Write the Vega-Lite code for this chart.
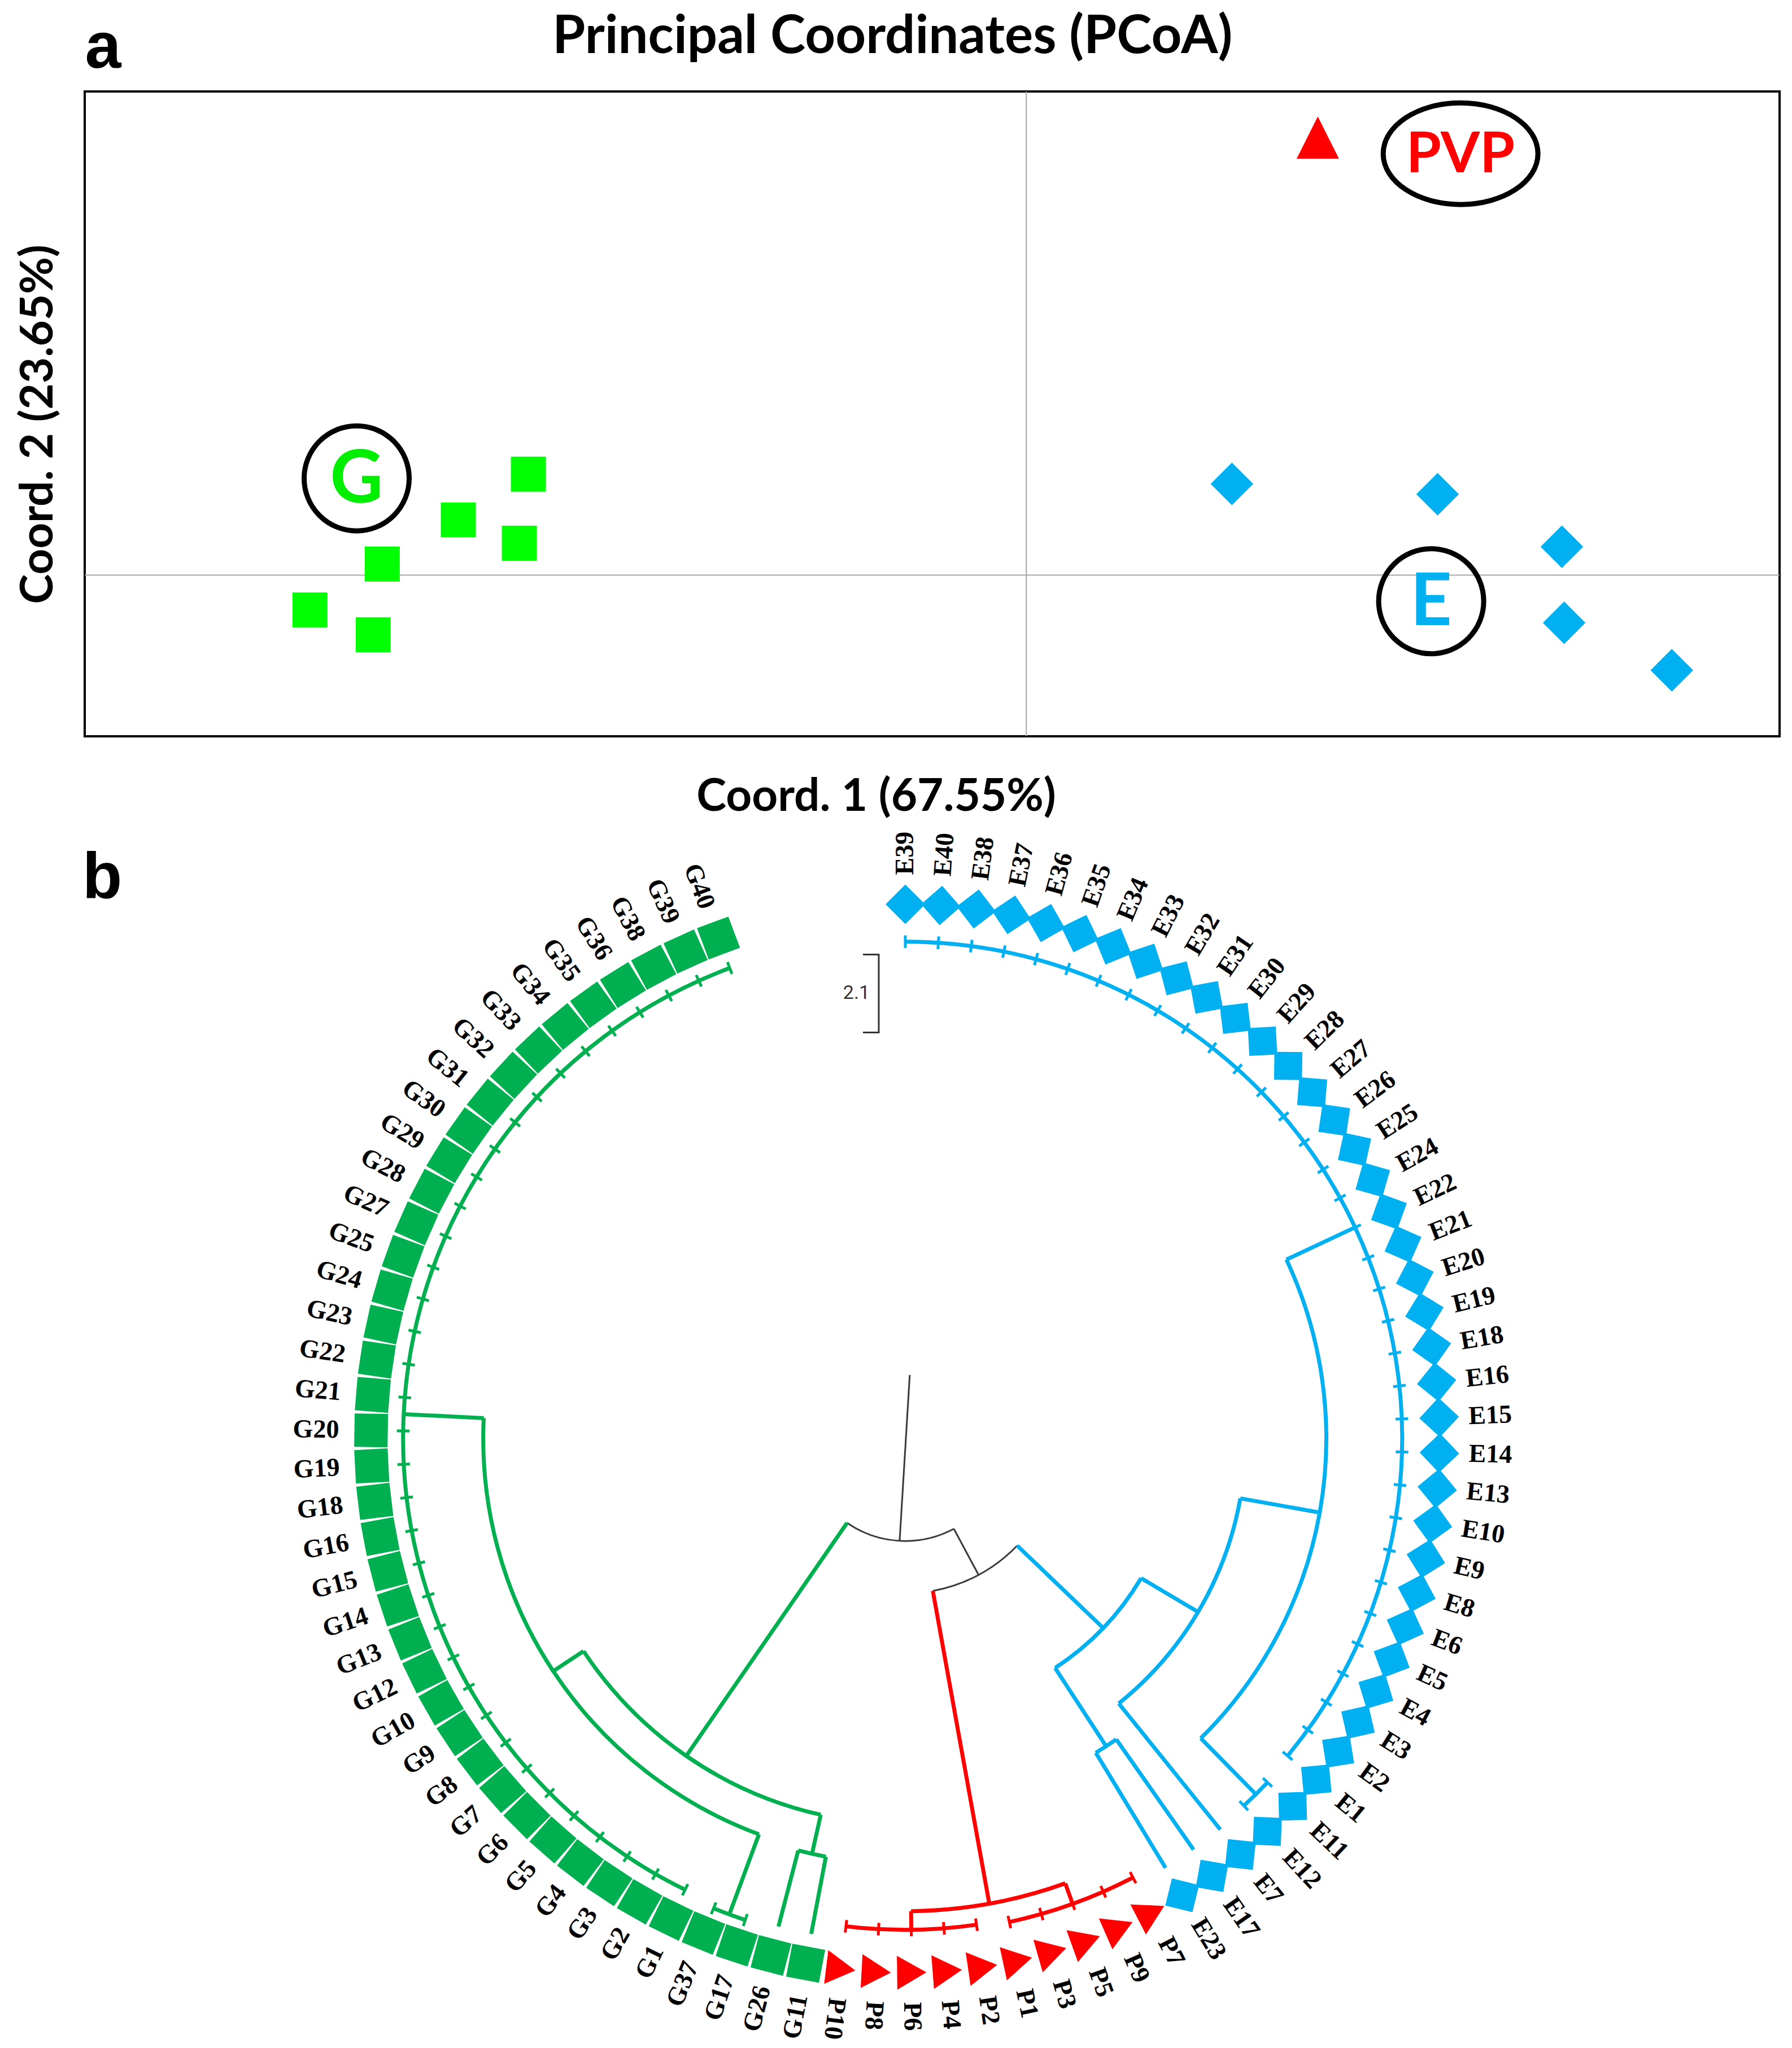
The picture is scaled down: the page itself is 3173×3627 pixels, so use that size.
{
 "$schema": "https://vega.github.io/schema/vega-lite/v6.json",
 "background": "white",
 "padding": {"left": 26, "top": 17, "right": 0, "bottom": 0},
 "autosize": {"type": "pad"},
 "spacing": 11,
 "config": {"view": {"stroke": null}, "font": "Lato"},
 "datasets": {
  "pcoa": [
   {"grp": "G", "x": -0.661, "y": 0.313},
   {"grp": "G", "x": -0.754, "y": 0.171},
   {"grp": "G", "x": -0.673, "y": 0.099},
   {"grp": "G", "x": -0.855, "y": 0.034},
   {"grp": "G", "x": -0.951, "y": -0.108},
   {"grp": "G", "x": -0.867, "y": -0.185},
   {"grp": "E", "x": 0.273, "y": 0.283},
   {"grp": "E", "x": 0.546, "y": 0.251},
   {"grp": "E", "x": 0.711, "y": 0.088},
   {"grp": "E", "x": 0.714, "y": -0.148},
   {"grp": "E", "x": 0.857, "y": -0.295},
   {"grp": "P", "x": 0.387, "y": 1.357}
  ],
  "ann": [
   {"lab": "G", "x": -0.889, "y": 0.300},
   {"lab": "PVP", "x": 0.5765, "y": 1.307},
   {"lab": "E", "x": 0.5375, "y": -0.081}
  ],
  "leaves": [
   {"n": "E39", "g": "E", "a": 0, "t": 0.93},
   {"n": "E40", "g": "E", "a": 3.815, "t": 0.93},
   {"n": "E38", "g": "E", "a": 7.63, "t": 0.93},
   {"n": "E37", "g": "E", "a": 11.445, "t": 0.93},
   {"n": "E36", "g": "E", "a": 15.26, "t": 0.93},
   {"n": "E35", "g": "E", "a": 19.075, "t": 0.93},
   {"n": "E34", "g": "E", "a": 22.89, "t": 0.93},
   {"n": "E33", "g": "E", "a": 26.705, "t": 0.93},
   {"n": "E32", "g": "E", "a": 30.52, "t": 0.93},
   {"n": "E31", "g": "E", "a": 34.335, "t": 0.93},
   {"n": "E30", "g": "E", "a": 38.15, "t": 0.93},
   {"n": "E29", "g": "E", "a": 41.965, "t": 0.93},
   {"n": "E28", "g": "E", "a": 45.78, "t": 0.93},
   {"n": "E27", "g": "E", "a": 49.595, "t": 0.93},
   {"n": "E26", "g": "E", "a": 53.41, "t": 0.93},
   {"n": "E25", "g": "E", "a": 57.225, "t": 0.93},
   {"n": "E24", "g": "E", "a": 61.04, "t": 0.93},
   {"n": "E22", "g": "E", "a": 64.855, "t": 0.93},
   {"n": "E21", "g": "E", "a": 68.67, "t": 0.93},
   {"n": "E20", "g": "E", "a": 72.485, "t": 0.93},
   {"n": "E19", "g": "E", "a": 76.3, "t": 0.93},
   {"n": "E18", "g": "E", "a": 80.115, "t": 0.93},
   {"n": "E16", "g": "E", "a": 83.93, "t": 0.93},
   {"n": "E15", "g": "E", "a": 87.745, "t": 0.93},
   {"n": "E14", "g": "E", "a": 91.56, "t": 0.93},
   {"n": "E13", "g": "E", "a": 95.375, "t": 0.93},
   {"n": "E10", "g": "E", "a": 99.19, "t": 0.93},
   {"n": "E9", "g": "E", "a": 103.005, "t": 0.93},
   {"n": "E8", "g": "E", "a": 106.82, "t": 0.93},
   {"n": "E6", "g": "E", "a": 110.635, "t": 0.93},
   {"n": "E5", "g": "E", "a": 114.45, "t": 0.93},
   {"n": "E4", "g": "E", "a": 118.265, "t": 0.93},
   {"n": "E3", "g": "E", "a": 122.08, "t": 0.93},
   {"n": "E2", "g": "E", "a": 125.895, "t": 0.93},
   {"n": "E1", "g": "E", "a": 129.71, "t": 0.93},
   {"n": "E11", "g": "E", "a": 133.525, "t": 0.935},
   {"n": "E12", "g": "E", "a": 137.34, "t": 0.935},
   {"n": "E7", "g": "E", "a": 141.155, "t": 0},
   {"n": "E17", "g": "E", "a": 144.97, "t": 0},
   {"n": "E23", "g": "E", "a": 148.785, "t": 0},
   {"n": "P7", "g": "P", "a": 152.6, "t": 0.926},
   {"n": "P9", "g": "P", "a": 156.415, "t": 0.926},
   {"n": "P5", "g": "P", "a": 160.23, "t": 0.926},
   {"n": "P3", "g": "P", "a": 164.045, "t": 0.926},
   {"n": "P1", "g": "P", "a": 167.86, "t": 0.926},
   {"n": "P2", "g": "P", "a": 171.675, "t": 0.92},
   {"n": "P4", "g": "P", "a": 175.49, "t": 0.92},
   {"n": "P6", "g": "P", "a": 179.305, "t": 0.92},
   {"n": "P8", "g": "P", "a": 183.12, "t": 0.92},
   {"n": "P10", "g": "P", "a": 186.935, "t": 0.92},
   {"n": "G11", "g": "G", "a": 190.75, "t": 0},
   {"n": "G26", "g": "G", "a": 194.565, "t": 0},
   {"n": "G17", "g": "G", "a": 198.38, "t": 0.95},
   {"n": "G37", "g": "G", "a": 202.195, "t": 0.95},
   {"n": "G1", "g": "G", "a": 206.01, "t": 0.94},
   {"n": "G2", "g": "G", "a": 209.825, "t": 0.94},
   {"n": "G3", "g": "G", "a": 213.64, "t": 0.94},
   {"n": "G4", "g": "G", "a": 217.455, "t": 0.94},
   {"n": "G5", "g": "G", "a": 221.27, "t": 0.94},
   {"n": "G6", "g": "G", "a": 225.085, "t": 0.94},
   {"n": "G7", "g": "G", "a": 228.9, "t": 0.94},
   {"n": "G8", "g": "G", "a": 232.715, "t": 0.94},
   {"n": "G9", "g": "G", "a": 236.53, "t": 0.94},
   {"n": "G10", "g": "G", "a": 240.345, "t": 0.94},
   {"n": "G12", "g": "G", "a": 244.16, "t": 0.94},
   {"n": "G13", "g": "G", "a": 247.975, "t": 0.94},
   {"n": "G14", "g": "G", "a": 251.79, "t": 0.94},
   {"n": "G15", "g": "G", "a": 255.605, "t": 0.94},
   {"n": "G16", "g": "G", "a": 259.42, "t": 0.94},
   {"n": "G18", "g": "G", "a": 263.235, "t": 0.94},
   {"n": "G19", "g": "G", "a": 267.05, "t": 0.94},
   {"n": "G20", "g": "G", "a": 270.865, "t": 0.94},
   {"n": "G21", "g": "G", "a": 274.68, "t": 0.94},
   {"n": "G22", "g": "G", "a": 278.495, "t": 0.94},
   {"n": "G23", "g": "G", "a": 282.31, "t": 0.94},
   {"n": "G24", "g": "G", "a": 286.125, "t": 0.94},
   {"n": "G25", "g": "G", "a": 289.94, "t": 0.94},
   {"n": "G27", "g": "G", "a": 293.755, "t": 0.94},
   {"n": "G28", "g": "G", "a": 297.57, "t": 0.94},
   {"n": "G29", "g": "G", "a": 301.385, "t": 0.94},
   {"n": "G30", "g": "G", "a": 305.2, "t": 0.94},
   {"n": "G31", "g": "G", "a": 309.015, "t": 0.94},
   {"n": "G32", "g": "G", "a": 312.83, "t": 0.94},
   {"n": "G33", "g": "G", "a": 316.645, "t": 0.94},
   {"n": "G34", "g": "G", "a": 320.46, "t": 0.94},
   {"n": "G35", "g": "G", "a": 324.275, "t": 0.94},
   {"n": "G36", "g": "G", "a": 328.09, "t": 0.94},
   {"n": "G38", "g": "G", "a": 331.905, "t": 0.94},
   {"n": "G39", "g": "G", "a": 335.72, "t": 0.94},
   {"n": "G40", "g": "G", "a": 339.535, "t": 0.94}
  ],
  "segs": [
   {"g": "K", "a1": 4, "r1": 0.119, "a2": 183.18, "r2": 0.192},
   {"g": "K", "a1": 151.77, "r1": 0.192, "a2": 151.77, "r2": 0.29},
   {"g": "P", "a1": 169.77, "r1": 0.29, "a2": 169.77, "r2": 0.885},
   {"g": "P", "a1": 179.305, "r1": 0.885, "a2": 179.305, "r2": 0.92},
   {"g": "P", "a1": 160.23, "r1": 0.885, "a2": 160.23, "r2": 0.926},
   {"g": "E", "a1": 133.77, "r1": 0.29, "a2": 133.77, "r2": 0.513},
   {"g": "E", "a1": 146.88, "r1": 0.513, "a2": 146.88, "r2": 0.688},
   {"g": "E", "a1": 144.97, "r1": 0.688, "a2": 144.97, "r2": 0.94},
   {"g": "E", "a1": 148.785, "r1": 0.688, "a2": 148.785, "r2": 0.94},
   {"g": "E", "a1": 120.65, "r1": 0.513, "a2": 120.65, "r2": 0.637},
   {"g": "E", "a1": 141.155, "r1": 0.637, "a2": 141.155, "r2": 0.94},
   {"g": "E", "a1": 100.14, "r1": 0.637, "a2": 100.14, "r2": 0.788},
   {"g": "E", "a1": 64.855, "r1": 0.788, "a2": 64.855, "r2": 0.93},
   {"g": "E", "a1": 135.43, "r1": 0.788, "a2": 135.43, "r2": 0.935},
   {"g": "G", "a1": 214.6, "r1": 0.192, "a2": 214.6, "r2": 0.722},
   {"g": "G", "a1": 236.53, "r1": 0.722, "a2": 236.53, "r2": 0.79},
   {"g": "G", "a1": 272.77, "r1": 0.79, "a2": 272.77, "r2": 0.94},
   {"g": "G", "a1": 200.29, "r1": 0.79, "a2": 200.29, "r2": 0.95},
   {"g": "G", "a1": 192.66, "r1": 0.722, "a2": 192.66, "r2": 0.797},
   {"g": "G", "a1": 194.565, "r1": 0.797, "a2": 194.565, "r2": 0.944},
   {"g": "G", "a1": 190.75, "r1": 0.797, "a2": 190.75, "r2": 0.944}
  ],
  "arcs": [
   {"g": "K", "a1": 151.77, "a2": 214.6, "r": 0.192},
   {"g": "K", "a1": 133.77, "a2": 169.77, "r": 0.29},
   {"g": "P", "a1": 160.23, "a2": 179.305, "r": 0.885},
   {"g": "P", "a1": 171.675, "a2": 186.935, "r": 0.92},
   {"g": "P", "a1": 152.6, "a2": 167.86, "r": 0.926},
   {"g": "E", "a1": 120.65, "a2": 146.88, "r": 0.513},
   {"g": "E", "a1": 144.97, "a2": 148.785, "r": 0.688},
   {"g": "E", "a1": 100.14, "a2": 141.155, "r": 0.637},
   {"g": "E", "a1": 64.855, "a2": 135.43, "r": 0.788},
   {"g": "E", "a1": 0, "a2": 129.71, "r": 0.93},
   {"g": "E", "a1": 133.525, "a2": 137.34, "r": 0.935},
   {"g": "G", "a1": 192.66, "a2": 236.53, "r": 0.722},
   {"g": "G", "a1": 200.29, "a2": 272.77, "r": 0.79},
   {"g": "G", "a1": 206.01, "a2": 339.535, "r": 0.94},
   {"g": "G", "a1": 198.38, "a2": 202.195, "r": 0.95},
   {"g": "G", "a1": 190.75, "a2": 194.565, "r": 0.797}
  ],
  "bar": [
   {"o": 1, "x": -0.0793, "y": 0.906},
   {"o": 2, "x": -0.0497, "y": 0.906},
   {"o": 3, "x": -0.0497, "y": 0.760},
   {"o": 4, "x": -0.0793, "y": 0.760}
  ]
 },
 "vconcat": [
  {
   "width": 3001,
   "height": 1142,
   "view": {"stroke": "#000000", "strokeWidth": 4},
   "layer": [
    {
     "data": {"values": [{}]},
     "mark": {"type": "rule", "color": "#a6a6a6", "strokeWidth": 2},
     "encoding": {"x": {"datum": 0, "type": "quantitative"}}
    },
    {
     "data": {"values": [{}]},
     "mark": {"type": "rule", "color": "#a6a6a6", "strokeWidth": 2},
     "encoding": {"y": {"datum": 0, "type": "quantitative"}}
    },
    {
     "data": {"name": "pcoa"},
     "transform": [{"filter": "datum.grp == 'G'"}],
     "mark": {"type": "point", "shape": "square", "filled": true, "opacity": 1, "color": "#00FF00", "size": 3844},
     "encoding": {
      "x": {"field": "x", "type": "quantitative", "scale": {"domain": [-1.25, 1.0], "nice": false, "zero": false},
            "axis": {"title": "Coord. 1 (67.55%)", "domain": false, "ticks": false, "labels": false, "grid": false, "titleFont": "Lato", "titleFontSize": 80, "titleFontWeight": "bold", "titleColor": "#000000", "titleX": 1401, "titleY": 131, "titleBaseline": "alphabetic"}},
      "y": {"field": "y", "type": "quantitative", "scale": {"domain": [-0.5, 1.5], "nice": false, "zero": false},
            "axis": {"title": "Coord. 2 (23.65%)", "domain": false, "ticks": false, "labels": false, "grid": false, "titleFont": "Lato", "titleFontSize": 80, "titleFontWeight": "bold", "titleColor": "#000000", "titleX": -58, "titleY": 589, "titleAngle": 270, "titleAlign": "center", "titleBaseline": "alphabetic"}}
     }
    },
    {
     "data": {"name": "pcoa"},
     "transform": [{"filter": "datum.grp == 'E'"}],
     "mark": {"type": "point", "shape": "diamond", "filled": true, "opacity": 1, "color": "#00B0F0", "size": 5700},
     "encoding": {"x": {"field": "x", "type": "quantitative"}, "y": {"field": "y", "type": "quantitative"}}
    },
    {
     "data": {"name": "pcoa"},
     "transform": [{"filter": "datum.grp == 'P'"}],
     "mark": {"type": "point", "shape": "M0,-1L1,1L-1,1Z", "filled": true, "opacity": 1, "color": "#FF0000", "size": 5600},
     "encoding": {"x": {"field": "x", "type": "quantitative"}, "y": {"field": "y", "type": "quantitative"}}
    },
    {
     "data": {"name": "ann"},
     "transform": [{"filter": "datum.lab != 'PVP'"}],
     "mark": {"type": "point", "shape": "circle", "filled": false, "opacity": 1, "stroke": "#000000", "strokeWidth": 9, "size": 34596},
     "encoding": {"x": {"field": "x", "type": "quantitative"}, "y": {"field": "y", "type": "quantitative"}}
    },
    {
     "data": {"name": "ann"},
     "transform": [{"filter": "datum.lab == 'PVP'"}],
     "mark": {"type": "point", "shape": "M-1,0A1,0.657,0,1,1,1,0A1,0.657,0,1,1,-1,0Z", "filled": false, "opacity": 1, "stroke": "#000000", "strokeWidth": 9, "size": 75076},
     "encoding": {"x": {"field": "x", "type": "quantitative"}, "y": {"field": "y", "type": "quantitative"}}
    },
    {
     "data": {"name": "ann"},
     "transform": [{"filter": "datum.lab == 'G'"}],
     "mark": {"type": "text", "font": "Lato", "fontWeight": "bold", "fontSize": 130, "color": "#00EE00", "baseline": "middle", "align": "center", "dy": 4},
     "encoding": {"x": {"field": "x", "type": "quantitative"}, "y": {"field": "y", "type": "quantitative"}, "text": {"field": "lab"}}
    },
    {
     "data": {"name": "ann"},
     "transform": [{"filter": "datum.lab == 'E'"}],
     "mark": {"type": "text", "font": "Lato", "fontWeight": "bold", "fontSize": 128, "color": "#00B0F0", "baseline": "middle", "align": "center", "dy": 4},
     "encoding": {"x": {"field": "x", "type": "quantitative"}, "y": {"field": "y", "type": "quantitative"}, "text": {"field": "lab"}}
    },
    {
     "data": {"name": "ann"},
     "transform": [{"filter": "datum.lab == 'PVP'"}],
     "mark": {"type": "text", "font": "Lato", "fontWeight": "bold", "fontSize": 100, "color": "#FF0000", "baseline": "middle", "align": "center", "dy": 3},
     "encoding": {"x": {"field": "x", "type": "quantitative"}, "y": {"field": "y", "type": "quantitative"}, "text": {"field": "lab"}}
    },
    {
     "data": {"values": [{"t": "a", "x": -1.2496, "y": 1.5736}]},
     "mark": {"type": "text", "font": "Liberation Sans", "fontWeight": "bold", "fontSize": 115, "color": "#000000", "baseline": "alphabetic", "align": "left"},
     "encoding": {"x": {"field": "x", "type": "quantitative"}, "y": {"field": "y", "type": "quantitative"}, "text": {"field": "t"}}
    },
    {
     "data": {"values": [{"t": "Principal Coordinates (PCoA)", "x": -0.1777, "y": 1.619}]},
     "mark": {"type": "text", "font": "Lato", "fontWeight": "bold", "fontSize": 94, "color": "#000000", "baseline": "alphabetic", "align": "center"},
     "encoding": {"x": {"field": "x", "type": "quantitative"}, "y": {"field": "y", "type": "quantitative"}, "text": {"field": "t"}}
    }
   ]
  },
  {
   "width": 2906,
   "height": 2167,
   "layer": [
    {
     "data": {"name": "arcs"},
     "transform": [{"filter": "datum.g != 'K'"}],
     "mark": {"type": "arc", "filled": false, "strokeWidth": 7},
     "encoding": {
      "theta": {"field": "a1", "type": "quantitative", "scale": {"domain": [0, 360]}, "stack": null},
      "theta2": {"field": "a2"},
      "radius": {"field": "r", "type": "quantitative", "scale": {"type": "linear", "domain": [0, 1], "range": [0, 946], "zero": true, "nice": false}},
      "radius2": {"field": "r"},
      "color": {"field": "g", "type": "nominal", "scale": {"domain": ["E", "P", "G", "K"], "range": ["#00B0F0", "#FF0000", "#00B050", "#3a3a3a"]}, "legend": null}
     }
    },
    {
     "data": {"name": "arcs"},
     "transform": [{"filter": "datum.g == 'K'"}],
     "mark": {"type": "arc", "filled": false, "strokeWidth": 3},
     "encoding": {
      "theta": {"field": "a1", "type": "quantitative", "stack": null},
      "theta2": {"field": "a2"},
      "radius": {"field": "r", "type": "quantitative"},
      "radius2": {"field": "r"},
      "color": {"field": "g", "type": "nominal", "legend": null}
     }
    },
    {
     "data": {"name": "segs"},
     "transform": [
      {"filter": "datum.g != 'K'"},
      {"calculate": "datum.r1*sin(datum.a1*PI/180)", "as": "x1"},
      {"calculate": "datum.r1*cos(datum.a1*PI/180)", "as": "y1"},
      {"calculate": "datum.r2*sin(datum.a2*PI/180)", "as": "x2"},
      {"calculate": "datum.r2*cos(datum.a2*PI/180)", "as": "y2"}
     ],
     "mark": {"type": "rule", "strokeWidth": 7},
     "encoding": {
      "x": {"field": "x1", "type": "quantitative", "scale": {"domain": [-1.53594, 1.53594], "nice": false, "zero": false}, "axis": null},
      "y": {"field": "y1", "type": "quantitative", "scale": {"domain": [-1.14535, 1.14535], "nice": false, "zero": false}, "axis": null},
      "x2": {"field": "x2"},
      "y2": {"field": "y2"},
      "color": {"field": "g", "type": "nominal", "legend": null}
     }
    },
    {
     "data": {"name": "segs"},
     "transform": [
      {"filter": "datum.g == 'K'"},
      {"calculate": "datum.r1*sin(datum.a1*PI/180)", "as": "x1"},
      {"calculate": "datum.r1*cos(datum.a1*PI/180)", "as": "y1"},
      {"calculate": "datum.r2*sin(datum.a2*PI/180)", "as": "x2"},
      {"calculate": "datum.r2*cos(datum.a2*PI/180)", "as": "y2"}
     ],
     "mark": {"type": "rule", "strokeWidth": 3},
     "encoding": {
      "x": {"field": "x1", "type": "quantitative", "axis": null},
      "y": {"field": "y1", "type": "quantitative", "axis": null},
      "x2": {"field": "x2"},
      "y2": {"field": "y2"},
      "color": {"field": "g", "type": "nominal", "legend": null}
     }
    },
    {
     "data": {"name": "leaves"},
     "transform": [
      {"filter": "datum.t > 0"},
      {"calculate": "datum.t*sin(datum.a*PI/180)", "as": "tx"},
      {"calculate": "datum.t*cos(datum.a*PI/180)", "as": "ty"},
      {"calculate": "datum.a - 90", "as": "tr"}
     ],
     "mark": {"type": "point", "shape": "stroke", "filled": false, "opacity": 1, "size": 500, "strokeWidth": 5},
     "encoding": {
      "x": {"field": "tx", "type": "quantitative", "axis": null},
      "y": {"field": "ty", "type": "quantitative", "axis": null},
      "angle": {"field": "tr", "type": "quantitative", "scale": null},
      "color": {"field": "g", "type": "nominal", "legend": null}
     }
    },
    {
     "data": {"name": "leaves"},
     "transform": [
      {"filter": "datum.g == 'E'"},
      {"calculate": "sin(datum.a*PI/180)", "as": "sx"},
      {"calculate": "cos(datum.a*PI/180)", "as": "sy"}
     ],
     "mark": {"type": "point", "shape": "diamond", "filled": true, "opacity": 1, "size": 4900},
     "encoding": {
      "x": {"field": "sx", "type": "quantitative", "axis": null},
      "y": {"field": "sy", "type": "quantitative", "axis": null},
      "angle": {"field": "a", "type": "quantitative", "scale": null},
      "color": {"field": "g", "type": "nominal", "legend": null}
     }
    },
    {
     "data": {"name": "leaves"},
     "transform": [
      {"filter": "datum.g == 'P'"},
      {"calculate": "sin(datum.a*PI/180)", "as": "sx"},
      {"calculate": "cos(datum.a*PI/180)", "as": "sy"},
      {"calculate": "datum.a - 180", "as": "rot"}
     ],
     "mark": {"type": "point", "shape": "triangle-right", "filled": true, "opacity": 1, "size": 3600},
     "encoding": {
      "x": {"field": "sx", "type": "quantitative", "axis": null},
      "y": {"field": "sy", "type": "quantitative", "axis": null},
      "angle": {"field": "rot", "type": "quantitative", "scale": null},
      "color": {"field": "g", "type": "nominal", "legend": null}
     }
    },
    {
     "data": {"name": "leaves"},
     "transform": [
      {"filter": "datum.g == 'G'"},
      {"calculate": "sin(datum.a*PI/180)", "as": "sx"},
      {"calculate": "cos(datum.a*PI/180)", "as": "sy"}
     ],
     "mark": {"type": "point", "shape": "square", "filled": true, "opacity": 1, "size": 3500},
     "encoding": {
      "x": {"field": "sx", "type": "quantitative", "axis": null},
      "y": {"field": "sy", "type": "quantitative", "axis": null},
      "angle": {"field": "a", "type": "quantitative", "scale": null},
      "color": {"field": "g", "type": "nominal", "legend": null}
     }
    },
    {
     "data": {"name": "leaves"},
     "transform": [
      {"filter": "datum.g != 'G'"},
      {"calculate": "1.055*sin(datum.a*PI/180)", "as": "lx"},
      {"calculate": "1.055*cos(datum.a*PI/180)", "as": "ly"},
      {"calculate": "datum.a - 90", "as": "la"}
     ],
     "mark": {"type": "text", "font": "Liberation Serif", "fontWeight": "bold", "fontSize": 46, "color": "#000000", "align": "left", "baseline": "middle"},
     "encoding": {
      "x": {"field": "lx", "type": "quantitative", "axis": null},
      "y": {"field": "ly", "type": "quantitative", "axis": null},
      "angle": {"field": "la", "type": "quantitative", "scale": null},
      "text": {"field": "n"}
     }
    },
    {
     "data": {"name": "leaves"},
     "transform": [
      {"filter": "datum.g == 'G'"},
      {"calculate": "1.06*sin(datum.a*PI/180)", "as": "lx"},
      {"calculate": "1.06*cos(datum.a*PI/180)", "as": "ly"},
      {"calculate": "datum.a - 270", "as": "la"}
     ],
     "mark": {"type": "text", "font": "Liberation Serif", "fontWeight": "bold", "fontSize": 46, "color": "#000000", "align": "right", "baseline": "middle"},
     "encoding": {
      "x": {"field": "lx", "type": "quantitative", "axis": null},
      "y": {"field": "ly", "type": "quantitative", "axis": null},
      "angle": {"field": "la", "type": "quantitative", "scale": null},
      "text": {"field": "n"}
     }
    },
    {
     "data": {"name": "bar"},
     "mark": {"type": "line", "color": "#333333", "strokeWidth": 3},
     "encoding": {
      "x": {"field": "x", "type": "quantitative", "axis": null},
      "y": {"field": "y", "type": "quantitative", "axis": null},
      "order": {"field": "o", "type": "quantitative"}
     }
    },
    {
     "data": {"values": [{"t": "2.1", "x": -0.0666, "y": 0.834}]},
     "mark": {"type": "text", "font": "Roboto", "fontSize": 34, "color": "#333333", "align": "right", "baseline": "middle"},
     "encoding": {
      "x": {"field": "x", "type": "quantitative", "axis": null},
      "y": {"field": "y", "type": "quantitative", "axis": null},
      "text": {"field": "t"}
     }
    },
    {
     "data": {"values": [{"t": "b", "x": -1.5402, "y": 1.0106}]},
     "mark": {"type": "text", "font": "Liberation Sans", "fontWeight": "bold", "fontSize": 115, "color": "#000000", "align": "left", "baseline": "alphabetic"},
     "encoding": {
      "x": {"field": "x", "type": "quantitative", "axis": null},
      "y": {"field": "y", "type": "quantitative", "axis": null},
      "text": {"field": "t"}
     }
    }
   ]
  }
 ]
}
